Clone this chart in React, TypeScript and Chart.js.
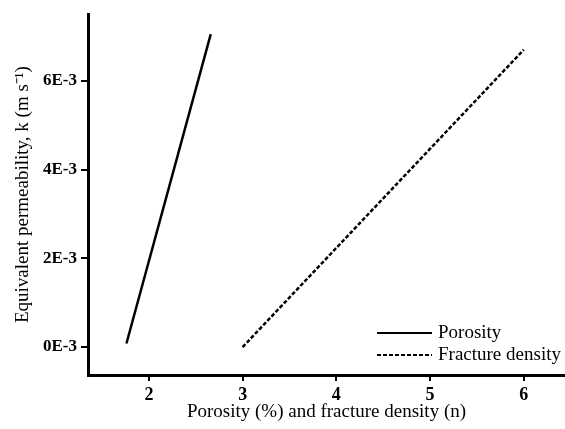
import React, { useEffect, useRef } from "react";
import { Chart, registerables } from "chart.js";

Chart.register(...registerables);

const porosityX = [1.76, 2.66];
const porosityK = [0.08e-3, 7.05e-3];
const fractureX = [3.0, 6.0];
const fractureK = [0.0, 6.7e-3];
const xTicks = [2, 3, 4, 5, 6];
const yTicks = [0, 2e-3, 4e-3, 6e-3];
const seriesNames = ["Porosity", "Fracture density"];

const FONT = "'Liberation Serif', 'Times New Roman', serif";

const legendPlugin = {
  id: "insideLegend",
  afterDraw(chart: any) {
    const ctx = chart.ctx;
    const area = chart.chartArea;
    ctx.save();
    ctx.strokeStyle = "#000";
    ctx.fillStyle = "#000";
    ctx.lineWidth = 2;
    ctx.font = `19px ${FONT}`;
    ctx.textBaseline = "middle";
    const x0 = area.left + 289;
    const rows = [area.bottom - 42, area.bottom - 20];
    rows.forEach((y, i) => {
      ctx.beginPath();
      ctx.setLineDash(i === 0 ? [] : [4, 2]);
      ctx.moveTo(x0, y);
      ctx.lineTo(x0 + 55, y);
      ctx.stroke();
      ctx.setLineDash([]);
      ctx.fillText(seriesNames[i], x0 + 61, y);
    });
    ctx.restore();
  },
};

export default function App() {
  const ref = useRef<HTMLCanvasElement | null>(null);
  useEffect(() => {
    if (!ref.current) return;
    const chart = new Chart(ref.current, {
      type: "scatter",
      data: {
        datasets: [
          {
            label: seriesNames[0],
            data: porosityX.map((x, i) => ({ x, y: porosityK[i] })),
            showLine: true,
            borderColor: "#000",
            borderWidth: 2.5,
            pointRadius: 0,
          },
          {
            label: seriesNames[1],
            data: fractureX.map((x, i) => ({ x, y: fractureK[i] })),
            showLine: true,
            borderColor: "#000",
            borderWidth: 2.5,
            borderDash: [4, 2],
            pointRadius: 0,
          },
        ],
      },
      options: {
        animation: false,
        responsive: true,
        maintainAspectRatio: false,
        layout: { padding: { top: 12, right: 0, left: 0, bottom: 6 } },
        plugins: { legend: { display: false }, tooltip: { enabled: false } },
        scales: {
          x: {
            type: "linear",
            min: 1.35,
            max: 6.44,
            afterBuildTicks: (s: any) => {
              s.ticks = xTicks.map((v) => ({ value: v }));
            },
            afterFit: (s: any) => {
              s.height = 48;
            },
            grid: { drawOnChartArea: false, drawTicks: true, tickLength: 6, color: "#000", lineWidth: 2 },
            border: { display: true, color: "#000", width: 3 },
            ticks: {
              color: "#000",
              padding: 4,
              font: { family: FONT, size: 18, weight: "bold" },
              callback: (v: any) => String(v),
            },
            title: {
              display: true,
              text: "Porosity (%) and fracture density (n)",
              color: "#000",
              padding: { top: 0, bottom: 0 },
              font: { family: FONT, size: 19 },
            },
          },
          y: {
            type: "linear",
            min: -0.63e-3,
            max: 7.5e-3,
            afterBuildTicks: (s: any) => {
              s.ticks = yTicks.map((v) => ({ value: v }));
            },
            afterFit: (s: any) => {
              s.width = 88;
            },
            grid: { drawOnChartArea: false, drawTicks: true, tickLength: 7, color: "#000", lineWidth: 2 },
            border: { display: true, color: "#000", width: 3 },
            ticks: {
              color: "#000",
              padding: 4,
              font: { family: FONT, size: 17, weight: "bold" },
              callback: (v: any) => `${Math.round(Number(v) * 1000)}E-3`,
            },
            title: {
              display: true,
              text: "Equivalent permeability, k (m s⁻¹)",
              color: "#000",
              padding: { top: 12, bottom: 0 },
              font: { family: FONT, size: 19 },
            },
          },
        },
      },
      plugins: [legendPlugin],
    } as any);
    return () => chart.destroy();
  }, []);
  return (
    <div style={{ position: "fixed", left: 0, top: 0, width: 565, height: 429, background: "#fff" }}>
      <canvas ref={ref} />
    </div>
  );
}
